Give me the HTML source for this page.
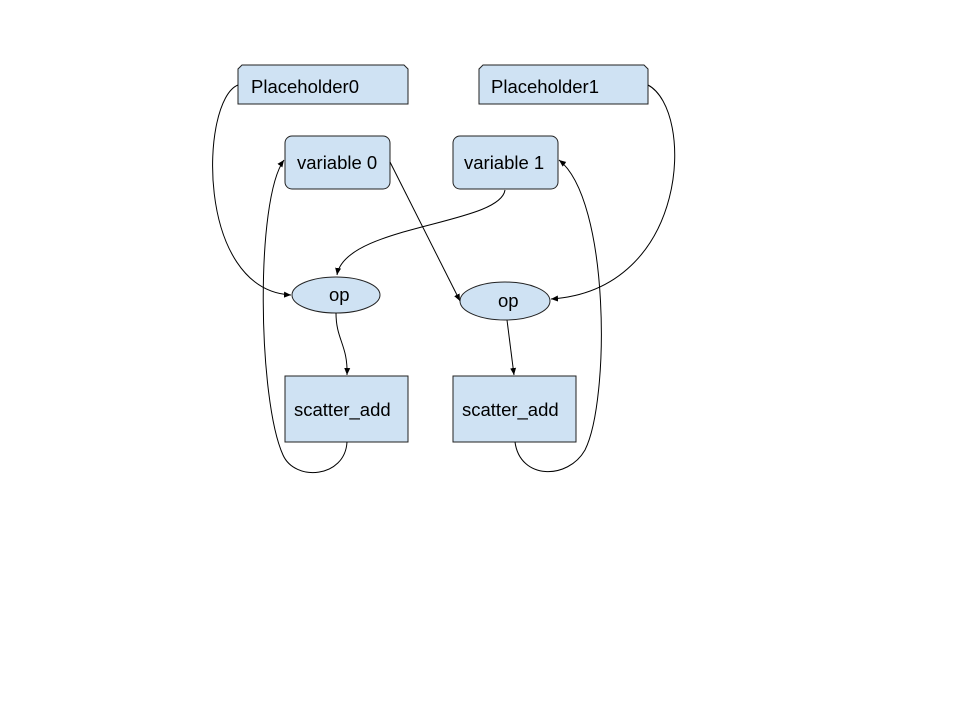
<!DOCTYPE html>
<html><head><meta charset="utf-8"><style>body{margin:0;background:#fff}</style></head><body>
<svg width="960" height="720" viewBox="0 0 960 720" xmlns="http://www.w3.org/2000/svg" font-family="Liberation Sans, sans-serif" font-size="18.5">
<defs><marker id="a" markerWidth="8" markerHeight="8" refX="7" refY="4" orient="auto" markerUnits="userSpaceOnUse"><path d="M0,1 L7,4 L0,7z" fill="#000"/></marker></defs>
<g fill="#cfe2f3" stroke="#222" stroke-width="1">
<path d="M242,65 H404 L408,69 V104 H238 V69 Z"/>
<path d="M483,65 H644 L648,69 V104 H479 V69 Z"/>
<rect x="285" y="136" width="105" height="53" rx="7"/>
<rect x="453" y="136" width="105" height="53" rx="7"/>
<ellipse cx="336" cy="295" rx="44" ry="18"/>
<ellipse cx="505" cy="301" rx="45" ry="19"/>
<rect x="285" y="376" width="123" height="66"/>
<rect x="453" y="376" width="123" height="66"/>
</g>
<g fill="none" stroke="#000" stroke-width="1">
<path d="M238,85 C200,100 195,290 291,295" marker-end="url(#a)"/>
<path d="M648,85 C695,110 690,290 551,299" marker-end="url(#a)"/>
<path d="M505,190 C500,225 345,225 337,275" marker-end="url(#a)"/>
<path d="M390,162 L460,301" marker-end="url(#a)"/>
<path d="M336,313 C336,340 348,345 347,375" marker-end="url(#a)"/>
<path d="M507,320 L514,375" marker-end="url(#a)"/>
<path d="M347,442 C345,478 295,482 283,455 C258,400 255,200 284,160" marker-end="url(#a)"/>
<path d="M515,442 C520,480 568,480 585,450 C610,400 610,200 559,160" marker-end="url(#a)"/>
</g>
<g fill="#000">
<text x="251" y="93">Placeholder0</text>
<text x="491" y="93">Placeholder1</text>
<text x="297" y="169">variable 0</text>
<text x="464" y="169">variable 1</text>
<text x="329" y="301">op</text>
<text x="498" y="307">op</text>
<text x="294" y="416">scatter_add</text>
<text x="462" y="416">scatter_add</text>
</g>
</svg>
</body></html>
